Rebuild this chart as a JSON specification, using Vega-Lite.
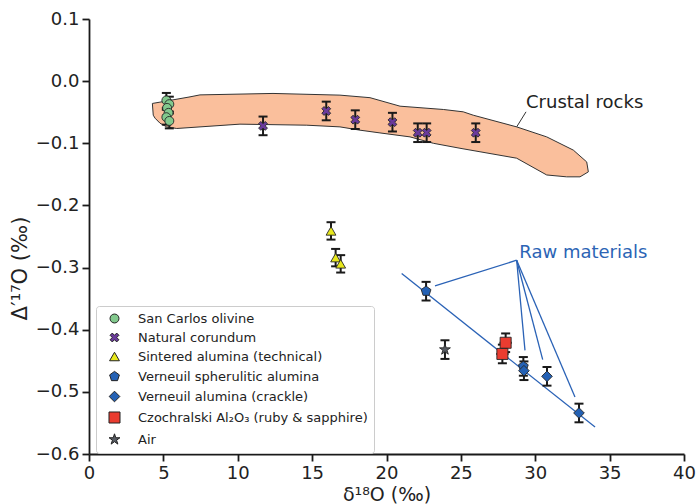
{
  "$schema": "https://vega.github.io/schema/vega-lite/v6.json",
  "width": 595,
  "height": 435,
  "autosize": {"type": "none"},
  "padding": {"left": 89, "top": 19, "right": 12, "bottom": 50},
  "config": {
    "font": "DejaVu Sans",
    "view": {"stroke": null},
    "axis": {"grid": false, "domainColor": "#1a1a1a", "domainWidth": 1.8, "tickColor": "#1a1a1a", "tickWidth": 1.8, "tickSize": 7, "labelFontSize": 18, "labelColor": "#222222", "labelFont": "DejaVu Sans", "titleFontSize": 19, "titleFont": "DejaVu Sans", "titleFontWeight": "normal", "titleColor": "#222222", "labelPadding": 3}
  },
  "datasets": {
    "pts": [
      {"series": "San Carlos olivine", "x": 5.2, "y": -0.031, "ylo": -0.043, "yhi": -0.019},
      {"series": "San Carlos olivine", "x": 5.4, "y": -0.037, "ylo": -0.049, "yhi": -0.025},
      {"series": "San Carlos olivine", "x": 5.25, "y": -0.043, "ylo": -0.055, "yhi": -0.031},
      {"series": "San Carlos olivine", "x": 5.35, "y": -0.051, "ylo": -0.063, "yhi": -0.039},
      {"series": "San Carlos olivine", "x": 5.2, "y": -0.058, "ylo": -0.070, "yhi": -0.046},
      {"series": "San Carlos olivine", "x": 5.4, "y": -0.064, "ylo": -0.076, "yhi": -0.052},
      {"series": "Natural corundum", "x": 11.7, "y": -0.072, "ylo": -0.087, "yhi": -0.057},
      {"series": "Natural corundum", "x": 15.95, "y": -0.048, "ylo": -0.063, "yhi": -0.033},
      {"series": "Natural corundum", "x": 17.9, "y": -0.062, "ylo": -0.077, "yhi": -0.047},
      {"series": "Natural corundum", "x": 20.4, "y": -0.066, "ylo": -0.081, "yhi": -0.051},
      {"series": "Natural corundum", "x": 22.1, "y": -0.083, "ylo": -0.098, "yhi": -0.068},
      {"series": "Natural corundum", "x": 22.7, "y": -0.083, "ylo": -0.098, "yhi": -0.068},
      {"series": "Natural corundum", "x": 26.0, "y": -0.083, "ylo": -0.098, "yhi": -0.068},
      {"series": "Sintered alumina (technical)", "x": 16.27, "y": -0.241, "ylo": -0.255, "yhi": -0.227},
      {"series": "Sintered alumina (technical)", "x": 16.58, "y": -0.284, "ylo": -0.298, "yhi": -0.270},
      {"series": "Sintered alumina (technical)", "x": 16.92, "y": -0.294, "ylo": -0.308, "yhi": -0.280},
      {"series": "Verneuil spherulitic alumina", "x": 22.66, "y": -0.338, "ylo": -0.353, "yhi": -0.323},
      {"series": "Verneuil spherulitic alumina", "x": 29.2, "y": -0.459, "ylo": -0.474, "yhi": -0.444},
      {"series": "Verneuil alumina (crackle)", "x": 29.24, "y": -0.466, "ylo": -0.481, "yhi": -0.451},
      {"series": "Verneuil alumina (crackle)", "x": 30.79, "y": -0.475, "ylo": -0.490, "yhi": -0.460},
      {"series": "Verneuil alumina (crackle)", "x": 32.94, "y": -0.534, "ylo": -0.549, "yhi": -0.519},
      {"series": "Czochralski Al₂O₃ (ruby & sapphire)", "x": 28.01, "y": -0.421, "ylo": -0.436, "yhi": -0.406, "xlo": 27.6, "xhi": 28.42},
      {"series": "Czochralski Al₂O₃ (ruby & sapphire)", "x": 27.79, "y": -0.439, "ylo": -0.454, "yhi": -0.424, "xlo": 27.38, "xhi": 28.2},
      {"series": "Air", "x": 23.93, "y": -0.432, "ylo": -0.447, "yhi": -0.417}
    ],
    "crust": [
      {"i": 0, "x": 4.26, "y": -0.0359},
      {"i": 1, "x": 4.77, "y": -0.0338},
      {"i": 2, "x": 6.79, "y": -0.0253},
      {"i": 3, "x": 7.46, "y": -0.0221},
      {"i": 4, "x": 12.37, "y": -0.0198},
      {"i": 5, "x": 16.87, "y": -0.0225},
      {"i": 6, "x": 18.89, "y": -0.0266},
      {"i": 7, "x": 20.91, "y": -0.0403},
      {"i": 8, "x": 23.82, "y": -0.0456},
      {"i": 9, "x": 25.16, "y": -0.0494},
      {"i": 10, "x": 25.83, "y": -0.0548},
      {"i": 11, "x": 28.75, "y": -0.0736},
      {"i": 12, "x": 30.77, "y": -0.0897},
      {"i": 13, "x": 32.56, "y": -0.111},
      {"i": 14, "x": 33.46, "y": -0.130},
      {"i": 15, "x": 33.57, "y": -0.146},
      {"i": 16, "x": 33.01, "y": -0.154},
      {"i": 17, "x": 32.11, "y": -0.154},
      {"i": 18, "x": 30.77, "y": -0.151},
      {"i": 19, "x": 28.75, "y": -0.124},
      {"i": 20, "x": 24.94, "y": -0.108},
      {"i": 21, "x": 23.15, "y": -0.100},
      {"i": 22, "x": 21.58, "y": -0.0897},
      {"i": 23, "x": 19.56, "y": -0.0833},
      {"i": 24, "x": 18.22, "y": -0.0789},
      {"i": 25, "x": 16.87, "y": -0.0736},
      {"i": 26, "x": 14.64, "y": -0.0709},
      {"i": 27, "x": 10.15, "y": -0.0692},
      {"i": 28, "x": 5.90, "y": -0.0762},
      {"i": 29, "x": 5.22, "y": -0.0736},
      {"i": 30, "x": 4.77, "y": -0.0676},
      {"i": 31, "x": 4.44, "y": -0.0596},
      {"i": 32, "x": 4.32, "y": -0.0548},
      {"i": 33, "x": 4.26, "y": -0.0359}
    ],
    "blue": [
      {"x": 21.02, "y": -0.3097, "x2": 34.02, "y2": -0.5567},
      {"x": 28.75, "y": -0.2882, "x2": 23.26, "y2": -0.3296},
      {"x": 28.75, "y": -0.2882, "x2": 29.31, "y2": -0.4332},
      {"x": 28.75, "y": -0.2882, "x2": 30.50, "y2": -0.4481},
      {"x": 28.75, "y": -0.2882, "x2": 32.67, "y2": -0.5084}
    ],
    "leader": [
      {"x": 28.75, "y": -0.0736, "x2": 29.38, "y2": -0.0494}
    ]
  },
  "layer": [
    {
      "data": {"name": "crust"},
      "mark": {"type": "line", "fill": "#fabf9c", "stroke": "#333333", "strokeWidth": 1, "interpolate": "linear"},
      "encoding": {
        "x": {"field": "x", "type": "quantitative", "title": "δ¹⁸O (‰)", "scale": {"domain": [0, 40], "nice": false, "zero": false},
              "axis": {"values": [0, 5, 10, 15, 20, 25, 30, 35, 40], "format": "d", "labelFlush": false, "titleY": 46, "titleBaseline": "alphabetic"}},
        "y": {"field": "y", "type": "quantitative", "title": "Δ′¹⁷O (‰)", "scale": {"domain": [-0.6, 0.1], "nice": false, "zero": false},
              "axis": {"values": [-0.6, -0.5, -0.4, -0.3, -0.2, -0.1, 0, 0.1], "format": ".1f", "labelFlush": false, "titleX": -69, "titleY": 249, "titleAngle": -90, "titleBaseline": "middle", "titleAlign": "center", "titleFontSize": 21}},
        "order": {"field": "i", "type": "quantitative"}
      }
    },
    {
      "data": {"name": "leader"},
      "mark": {"type": "rule", "color": "#333333", "strokeWidth": 1},
      "encoding": {
        "x": {"field": "x", "type": "quantitative", "title": "δ¹⁸O (‰)"},
        "y": {"field": "y", "type": "quantitative", "title": "Δ′¹⁷O (‰)"},
        "x2": {"field": "x2"},
        "y2": {"field": "y2"}
      }
    },
    {
      "data": {"name": "blue"},
      "mark": {"type": "rule", "color": "#2a62b6", "strokeWidth": 1.3},
      "encoding": {
        "x": {"field": "x", "type": "quantitative", "title": "δ¹⁸O (‰)"},
        "y": {"field": "y", "type": "quantitative", "title": "Δ′¹⁷O (‰)"},
        "x2": {"field": "x2"},
        "y2": {"field": "y2"}
      }
    },
    {
      "data": {"name": "pts"},
      "mark": {"type": "rule", "color": "#1a1a1a", "strokeWidth": 2},
      "encoding": {
        "x": {"field": "x", "type": "quantitative", "title": "δ¹⁸O (‰)"},
        "y": {"field": "ylo", "type": "quantitative", "title": "Δ′¹⁷O (‰)"},
        "y2": {"field": "yhi"}
      }
    },
    {
      "data": {"name": "pts"},
      "mark": {"type": "tick", "orient": "horizontal", "color": "#1a1a1a", "size": 9, "thickness": 2, "opacity": 1},
      "encoding": {
        "x": {"field": "x", "type": "quantitative", "title": "δ¹⁸O (‰)"},
        "y": {"field": "ylo", "type": "quantitative", "title": "Δ′¹⁷O (‰)"}
      }
    },
    {
      "data": {"name": "pts"},
      "mark": {"type": "tick", "orient": "horizontal", "color": "#1a1a1a", "size": 9, "thickness": 2, "opacity": 1},
      "encoding": {
        "x": {"field": "x", "type": "quantitative", "title": "δ¹⁸O (‰)"},
        "y": {"field": "yhi", "type": "quantitative", "title": "Δ′¹⁷O (‰)"}
      }
    },
    {
      "data": {"name": "pts"},
      "transform": [{"filter": "isValid(datum.xlo)"}],
      "mark": {"type": "rule", "color": "#1a1a1a", "strokeWidth": 2},
      "encoding": {
        "x": {"field": "xlo", "type": "quantitative", "title": "δ¹⁸O (‰)"},
        "x2": {"field": "xhi"},
        "y": {"field": "y", "type": "quantitative", "title": "Δ′¹⁷O (‰)"}
      }
    },
    {
      "data": {"name": "pts"},
      "mark": {"type": "point", "filled": true, "opacity": 1, "stroke": "#262626", "strokeWidth": 0.9},
      "encoding": {
        "x": {"field": "x", "type": "quantitative", "title": "δ¹⁸O (‰)"},
        "y": {"field": "y", "type": "quantitative", "title": "Δ′¹⁷O (‰)"},
        "color": {
          "field": "series", "type": "nominal",
          "scale": {
            "domain": ["San Carlos olivine", "Natural corundum", "Sintered alumina (technical)", "Verneuil spherulitic alumina", "Verneuil alumina (crackle)", "Czochralski Al₂O₃ (ruby & sapphire)", "Air"],
            "range": ["#82c98d", "#6a3a9b", "#e8e81c", "#2461b4", "#2461b4", "#ea3c30", "#575c63"]
          },
          "legend": {"orient": "none", "legendX": 7, "legendY": 287, "title": null, "strokeColor": "#cccccc", "fillColor": "#ffffff", "cornerRadius": 3, "padding": 6, "rowPadding": 5, "labelFontSize": 13, "labelFont": "DejaVu Sans", "labelColor": "#222222", "symbolSize": 110, "symbolStrokeColor": "#222222", "symbolStrokeWidth": 1, "labelOffset": 17, "symbolOffset": 6, "labelLimit": 300}
        },
        "shape": {
          "field": "series", "type": "nominal",
          "scale": {
            "domain": ["San Carlos olivine", "Natural corundum", "Sintered alumina (technical)", "Verneuil spherulitic alumina", "Verneuil alumina (crackle)", "Czochralski Al₂O₃ (ruby & sapphire)", "Air"],
            "range": ["circle", "M0.943,-0.471L0.471,0L0.943,0.471L0.471,0.943L0,0.471L-0.471,0.943L-0.943,0.471L-0.471,0L-0.943,-0.471L-0.471,-0.943L0,-0.471L0.471,-0.943Z", "triangle-up", "M0,-1L0.951,-0.309L0.588,0.809L-0.588,0.809L-0.951,-0.309Z", "diamond", "square", "M0,-1L0.225,-0.309L0.951,-0.309L0.363,0.118L0.588,0.809L0,0.382L-0.588,0.809L-0.363,0.118L-0.951,-0.309L-0.225,-0.309Z"]
          },
          "legend": {"orient": "none", "legendX": 7, "legendY": 287, "title": null, "strokeColor": "#cccccc", "fillColor": "#ffffff", "cornerRadius": 3, "padding": 6, "rowPadding": 5, "labelFontSize": 13, "labelFont": "DejaVu Sans", "labelColor": "#222222", "symbolSize": 110, "symbolStrokeColor": "#222222", "symbolStrokeWidth": 1, "labelOffset": 17, "symbolOffset": 6, "labelLimit": 300}
        },
        "size": {
          "field": "series", "type": "nominal",
          "scale": {
            "domain": ["San Carlos olivine", "Natural corundum", "Sintered alumina (technical)", "Verneuil spherulitic alumina", "Verneuil alumina (crackle)", "Czochralski Al₂O₃ (ruby & sapphire)", "Air"],
            "range": [80, 130, 140, 120, 220, 115, 130]
          },
          "legend": null
        }
      }
    },
    {
      "data": {"values": [{"label": "Crustal rocks", "x": 29.38, "y": -0.0435}]},
      "mark": {"type": "text", "align": "left", "baseline": "alphabetic", "fontSize": 18, "color": "#222222", "font": "DejaVu Sans"},
      "encoding": {
        "x": {"field": "x", "type": "quantitative", "title": "δ¹⁸O (‰)"},
        "y": {"field": "y", "type": "quantitative", "title": "Δ′¹⁷O (‰)"},
        "text": {"field": "label"}
      }
    },
    {
      "data": {"values": [{"label": "Raw materials", "x": 28.93, "y": -0.284}]},
      "mark": {"type": "text", "align": "left", "baseline": "alphabetic", "fontSize": 18, "color": "#2c64b5", "font": "DejaVu Sans"},
      "encoding": {
        "x": {"field": "x", "type": "quantitative", "title": "δ¹⁸O (‰)"},
        "y": {"field": "y", "type": "quantitative", "title": "Δ′¹⁷O (‰)"},
        "text": {"field": "label"}
      }
    }
  ]
}
